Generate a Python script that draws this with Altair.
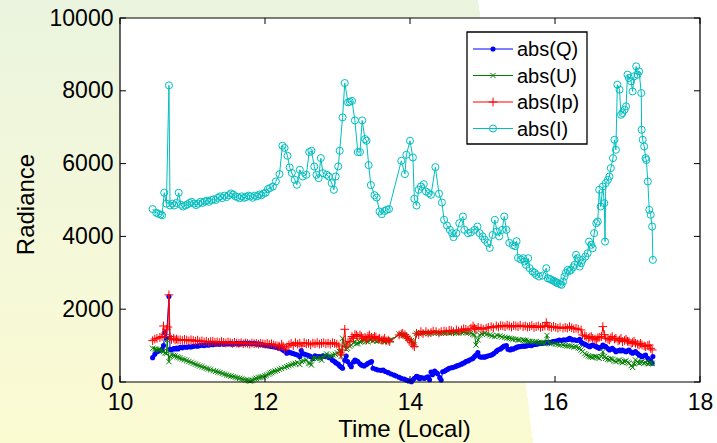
import altair as alt
import pandas as pd

X_TICKS = [10, 12, 14, 16, 18]
Y_TICKS = [0, 2000, 4000, 6000, 8000, 10000]
SERIES = ["abs(Q)", "abs(U)", "abs(Ip)", "abs(I)"]
COLORS = ["#0000FF", "#008000", "#FF0000", "#00BFBF"]

# (time, value) pairs
Q_PTS = [
    (10.45, 669), (10.48, 760), (10.51, 834), (10.55, 862), (10.58, 900), (10.60, 1000), (10.62, 1357),
    (10.64, 1200), (10.675, 2346), (10.69, 900), (10.71, 880), (10.74, 920), (10.76, 907), (10.78, 930),
    (10.80, 907), (10.83, 950), (10.86, 940), (10.89, 960), (10.92, 955), (10.95, 970), (10.98, 960),
    (11.01, 980), (11.04, 990), (11.07, 985), (11.10, 1000), (11.13, 1010), (11.16, 1000), (11.19, 1020),
    (11.22, 1010), (11.25, 1030), (11.28, 1025), (11.31, 1040), (11.34, 1045), (11.37, 1035), (11.40, 1050),
    (11.43, 1040), (11.46, 1055), (11.49, 1045), (11.52, 1060), (11.55, 1040), (11.58, 1050), (11.61, 1060),
    (11.64, 1040), (11.67, 1060), (11.70, 1050), (11.73, 1070), (11.76, 1060), (11.79, 1063), (11.82, 1050),
    (11.85, 1060), (11.88, 1040), (11.91, 1050), (11.94, 1030), (11.97, 1020), (12.00, 1010), (12.02, 1000),
    (12.05, 990), (12.08, 980), (12.11, 970), (12.14, 960), (12.16, 955), (12.19, 930), (12.21, 950),
    (12.23, 907), (12.25, 880), (12.27, 850), (12.30, 788), (12.33, 820), (12.36, 800), (12.39, 780),
    (12.42, 760), (12.45, 740), (12.48, 697), (12.50, 862), (12.52, 780), (12.55, 760), (12.58, 740),
    (12.61, 720), (12.63, 700), (12.66, 645), (12.69, 720), (12.72, 700), (12.755, 697), (12.77, 690),
    (12.80, 720), (12.82, 700), (12.85, 715), (12.88, 670), (12.91, 660), (12.93, 600), (12.96, 560),
    (12.98, 525), (13.01, 490), (13.03, 440), (13.05, 410), (13.07, 376), (13.10, 600), (13.12, 715),
    (13.14, 560), (13.17, 480), (13.19, 422), (13.22, 550), (13.24, 605), (13.26, 580), (13.28, 560),
    (13.31, 500), (13.33, 468), (13.35, 450), (13.37, 440), (13.40, 480), (13.42, 515), (13.45, 540),
    (13.47, 560), (13.49, 376), (13.53, 350), (13.56, 330), (13.60, 320), (13.63, 330), (13.66, 290),
    (13.70, 257), (13.74, 220), (13.78, 190), (13.81, 165), (13.85, 130), (13.88, 100), (13.92, 80),
    (13.95, 55), (13.98, 30), (14.02, 10), (14.04, 60), (14.06, 100), (14.09, 160), (14.11, 140),
    (14.13, 90), (14.15, 120), (14.18, 110), (14.20, 100), (14.23, 130), (14.25, 140), (14.27, 60),
    (14.29, 275), (14.31, 200), (14.34, 300), (14.36, 260), (14.38, 230), (14.41, 120), (14.43, 55),
    (14.45, 283), (14.48, 300), (14.50, 330), (14.52, 350), (14.54, 376), (14.57, 390), (14.59, 400),
    (14.62, 420), (14.64, 440), (14.66, 450), (14.68, 468), (14.71, 490), (14.73, 515), (14.75, 530),
    (14.77, 560), (14.80, 580), (14.82, 605), (14.85, 630), (14.87, 651), (14.89, 700), (14.91, 742),
    (14.936, 806), (14.96, 700), (14.98, 680), (15.01, 690), (15.03, 680), (15.05, 700), (15.07, 715),
    (15.10, 730), (15.12, 742), (15.14, 760), (15.16, 788), (15.19, 840), (15.21, 880), (15.24, 900),
    (15.26, 925), (15.28, 960), (15.30, 990), (15.33, 1000), (15.35, 900), (15.38, 880), (15.40, 910),
    (15.42, 898), (15.45, 930), (15.47, 950), (15.49, 970), (15.51, 971), (15.54, 980), (15.56, 990),
    (15.58, 985), (15.60, 990), (15.62, 1000), (15.65, 1010), (15.67, 1000), (15.69, 1017), (15.72, 1030),
    (15.74, 1040), (15.76, 1045), (15.78, 1063), (15.81, 1060), (15.83, 1063), (15.86, 1070), (15.88, 1082),
    (15.90, 1080), (15.93, 1090), (15.97, 1109), (16.00, 1120), (16.03, 1130), (16.06, 1155), (16.09, 1140),
    (16.12, 1160), (16.15, 1155), (16.18, 1170), (16.20, 1201), (16.22, 1180), (16.24, 1155), (16.27, 1160),
    (16.30, 1140), (16.34, 1173), (16.36, 1100), (16.38, 1063), (16.41, 1040), (16.43, 1017), (16.46, 990),
    (16.48, 971), (16.50, 1000), (16.52, 1017), (16.55, 990), (16.57, 971), (16.59, 950), (16.61, 925),
    (16.64, 960), (16.66, 1017), (16.68, 990), (16.70, 971), (16.73, 920), (16.75, 880), (16.77, 900),
    (16.79, 925), (16.82, 880), (16.84, 834), (16.87, 860), (16.89, 880), (16.91, 850), (16.93, 880),
    (16.96, 850), (16.98, 834), (17.00, 860), (17.02, 880), (17.05, 820), (17.07, 788), (17.09, 810),
    (17.11, 834), (17.14, 780), (17.16, 742), (17.18, 720), (17.20, 697), (17.23, 720), (17.25, 742),
    (17.28, 650), (17.30, 605), (17.32, 560), (17.34, 514), (17.35, 700),
]

U_PTS = [
    (10.45, 926), (10.48, 910), (10.50, 898), (10.53, 890), (10.55, 880), (10.58, 860), (10.60, 834),
    (10.62, 800), (10.64, 788), (10.65, 1155), (10.675, 559), (10.69, 700), (10.71, 742), (10.74, 730),
    (10.76, 715), (10.79, 690), (10.81, 670), (10.83, 651), (10.86, 630), (10.89, 610), (10.92, 587),
    (10.95, 565), (10.98, 540), (11.01, 513), (11.04, 490), (11.07, 465), (11.10, 440), (11.13, 420),
    (11.16, 398), (11.19, 376), (11.22, 355), (11.25, 335), (11.29, 312), (11.32, 295), (11.35, 275),
    (11.38, 257), (11.41, 235), (11.44, 215), (11.47, 193), (11.50, 178), (11.53, 162), (11.56, 147),
    (11.59, 130), (11.62, 115), (11.65, 101), (11.68, 85), (11.71, 70), (11.74, 55), (11.77, 40),
    (11.79, 27), (11.81, 35), (11.83, 55), (11.86, 80), (11.88, 101), (11.91, 115), (11.93, 128),
    (11.95, 140), (11.97, 147), (12.00, 170), (12.02, 193), (12.05, 215), (12.07, 238), (12.09, 260),
    (12.11, 284), (12.14, 300), (12.17, 320), (12.20, 349), (12.23, 370), (12.27, 400), (12.30, 422),
    (12.33, 450), (12.36, 470), (12.39, 495), (12.42, 510), (12.45, 530), (12.48, 480), (12.50, 570),
    (12.53, 580), (12.57, 605), (12.60, 520), (12.62, 514), (12.64, 468), (12.66, 651), (12.69, 660),
    (12.72, 640), (12.76, 651), (12.78, 600), (12.80, 697), (12.83, 720), (12.85, 770), (12.88, 700),
    (12.91, 720), (12.94, 742), (12.97, 760), (13.00, 800), (13.03, 834), (13.05, 700), (13.07, 1201),
    (13.10, 1017), (13.12, 900), (13.14, 925), (13.17, 980), (13.19, 1017), (13.22, 1080), (13.24, 1109),
    (13.26, 1050), (13.28, 1063), (13.31, 1100), (13.33, 1109), (13.35, 1140), (13.37, 1155), (13.40, 1120),
    (13.42, 1109), (13.45, 1160), (13.47, 1173), (13.49, 1130), (13.51, 1155), (13.54, 1120), (13.56, 1136),
    (13.58, 1150), (13.60, 1155), (13.63, 1120), (13.65, 1109), (13.68, 1140), (13.70, 1136), (13.72, 1150),
    (13.74, 1155), (13.85, 1320), (13.88, 1300), (13.90, 1292), (13.93, 1270), (13.95, 1247), (13.97, 1200),
    (13.99, 1173), (14.02, 1140), (14.04, 1109), (14.06, 1017), (14.09, 1338), (14.12, 1320), (14.15, 1356),
    (14.18, 1340), (14.22, 1356), (14.25, 1330), (14.29, 1338), (14.32, 1360), (14.36, 1356), (14.40, 1340),
    (14.43, 1338), (14.47, 1350), (14.50, 1356), (14.54, 1340), (14.57, 1356), (14.60, 1370), (14.64, 1356),
    (14.67, 1340), (14.71, 1356), (14.74, 1370), (14.77, 1356), (14.80, 1350), (14.84, 1338), (14.87, 1310),
    (14.89, 1292), (14.91, 1017), (14.94, 1155), (14.96, 1292), (14.99, 1320), (15.03, 1338), (15.06, 1310),
    (15.10, 1292), (15.13, 1270), (15.17, 1247), (15.20, 1280), (15.24, 1265), (15.27, 1240), (15.31, 1228),
    (15.34, 1210), (15.37, 1201), (15.40, 1190), (15.42, 1173), (15.46, 1173), (15.49, 1160), (15.51, 1155),
    (15.56, 1155), (15.58, 1140), (15.60, 1136), (15.63, 1120), (15.65, 1109), (15.69, 1109), (15.72, 1100),
    (15.74, 1109), (15.78, 1082), (15.81, 1090), (15.83, 1082), (15.86, 1070), (15.89, 1280), (15.92, 1063),
    (15.95, 1050), (16.01, 1045), (16.04, 1030), (16.07, 1020), (16.11, 1017), (16.14, 1000), (16.17, 990),
    (16.20, 990), (16.23, 980), (16.26, 960), (16.29, 971), (16.32, 940), (16.34, 925), (16.36, 880),
    (16.38, 834), (16.41, 780), (16.43, 742), (16.46, 720), (16.48, 697), (16.50, 690), (16.52, 678),
    (16.55, 700), (16.57, 697), (16.59, 670), (16.61, 651), (16.64, 700), (16.66, 834), (16.68, 700),
    (16.70, 651), (16.73, 630), (16.75, 605), (16.77, 640), (16.79, 624), (16.82, 580), (16.84, 559),
    (16.87, 590), (16.89, 605), (16.91, 560), (16.93, 532), (16.96, 560), (16.98, 587), (17.00, 540),
    (17.02, 514), (17.05, 450), (17.07, 403), (17.09, 500), (17.11, 605), (17.14, 540), (17.16, 514),
    (17.18, 540), (17.20, 559), (17.23, 520), (17.25, 532), (17.28, 500), (17.30, 514), (17.32, 530),
    (17.34, 514),
]

IP_PTS = [
    (10.45, 1136), (10.48, 1180), (10.51, 1200), (10.55, 1225), (10.58, 1250), (10.60, 1540), (10.62, 1300),
    (10.64, 1450), (10.66, 1510), (10.675, 2393), (10.69, 1250), (10.71, 1170), (10.74, 1200), (10.76, 1155),
    (10.78, 1180), (10.80, 1155), (10.83, 1160), (10.86, 1140), (10.89, 1170), (10.92, 1150), (10.95, 1130),
    (10.98, 1160), (11.01, 1140), (11.04, 1120), (11.07, 1150), (11.10, 1109), (11.13, 1130), (11.16, 1100),
    (11.19, 1120), (11.22, 1090), (11.25, 1110), (11.28, 1120), (11.31, 1090), (11.34, 1100), (11.37, 1080),
    (11.40, 1110), (11.43, 1090), (11.46, 1070), (11.49, 1100), (11.52, 1080), (11.55, 1060), (11.58, 1090),
    (11.61, 1070), (11.64, 1060), (11.67, 1080), (11.70, 1050), (11.73, 1070), (11.76, 1060), (11.79, 1040),
    (11.82, 1070), (11.85, 1050), (11.88, 1060), (11.91, 1040), (11.94, 1060), (11.97, 1050), (12.00, 1040),
    (12.03, 1060), (12.06, 1030), (12.09, 1050), (12.12, 1020), (12.15, 1000), (12.18, 990), (12.20, 970),
    (12.23, 1040), (12.25, 980), (12.27, 900), (12.30, 960), (12.33, 1020), (12.36, 1060), (12.39, 1000),
    (12.42, 1080), (12.45, 1040), (12.48, 1063), (12.51, 990), (12.54, 1080), (12.57, 1050), (12.60, 1060),
    (12.63, 1020), (12.66, 1070), (12.69, 1050), (12.72, 1080), (12.75, 1040), (12.78, 1060), (12.81, 1080),
    (12.84, 1050), (12.87, 1070), (12.90, 1040), (12.93, 1080), (12.96, 1060), (12.99, 1040), (13.02, 990),
    (13.04, 800), (13.05, 742), (13.07, 880), (13.10, 1448), (13.12, 971), (13.145, 1100), (13.17, 1109),
    (13.20, 1250), (13.22, 1201), (13.24, 1300), (13.26, 1292), (13.28, 1250), (13.31, 1292), (13.33, 1250),
    (13.35, 1201), (13.38, 1230), (13.40, 1155), (13.42, 1250), (13.44, 1292), (13.47, 1230), (13.49, 1201),
    (13.51, 1250), (13.53, 1230), (13.56, 1180), (13.58, 1201), (13.61, 1150), (13.63, 1155), (13.65, 1200),
    (13.67, 1130), (13.70, 1150), (13.72, 1109), (13.85, 1292), (13.88, 1320), (13.90, 1338), (13.93, 1300),
    (13.95, 1247), (13.97, 1200), (13.99, 1155), (14.02, 1080), (14.04, 1017), (14.06, 971), (14.09, 1338),
    (14.12, 1300), (14.15, 1384), (14.18, 1330), (14.22, 1384), (14.25, 1340), (14.29, 1360), (14.32, 1400),
    (14.36, 1384), (14.40, 1350), (14.43, 1384), (14.47, 1400), (14.50, 1384), (14.54, 1420), (14.57, 1412),
    (14.60, 1380), (14.64, 1430), (14.67, 1400), (14.71, 1430), (14.74, 1460), (14.77, 1448), (14.80, 1420),
    (14.84, 1476), (14.87, 1540), (14.89, 1480), (14.91, 1448), (14.94, 1500), (14.98, 1476), (15.01, 1450),
    (15.05, 1476), (15.08, 1500), (15.12, 1522), (15.15, 1490), (15.19, 1540), (15.22, 1510), (15.25, 1550),
    (15.28, 1540), (15.31, 1520), (15.34, 1560), (15.37, 1540), (15.40, 1510), (15.43, 1550), (15.46, 1540),
    (15.49, 1520), (15.52, 1560), (15.56, 1522), (15.59, 1540), (15.62, 1510), (15.65, 1522), (15.68, 1550),
    (15.71, 1500), (15.74, 1522), (15.77, 1540), (15.80, 1500), (15.83, 1522), (15.86, 1540), (15.88, 1632),
    (15.90, 1540), (15.92, 1522), (15.95, 1500), (15.98, 1530), (16.01, 1503), (16.04, 1480), (16.07, 1510),
    (16.11, 1476), (16.14, 1500), (16.17, 1480), (16.20, 1522), (16.23, 1490), (16.26, 1460), (16.29, 1476),
    (16.32, 1450), (16.36, 1430), (16.38, 1292), (16.41, 1270), (16.43, 1247), (16.46, 1200), (16.48, 1228),
    (16.50, 1250), (16.52, 1201), (16.55, 1180), (16.57, 1155), (16.59, 1210), (16.61, 1228), (16.64, 1250),
    (16.66, 1522), (16.68, 1300), (16.70, 1201), (16.73, 1180), (16.75, 1155), (16.77, 1210), (16.79, 1247),
    (16.82, 1180), (16.84, 1201), (16.87, 1130), (16.89, 1155), (16.91, 1200), (16.93, 1109), (16.96, 1140),
    (16.98, 1173), (17.00, 1120), (17.02, 1109), (17.05, 1060), (17.07, 1082), (17.09, 1120), (17.11, 1063),
    (17.14, 1040), (17.16, 1017), (17.18, 1060), (17.20, 1017), (17.23, 990), (17.25, 971), (17.28, 1000),
    (17.30, 1017), (17.32, 925), (17.34, 880),
]

I_PTS = [
    (10.45, 4750), (10.50, 4650), (10.53, 4620), (10.56, 4600), (10.58, 4580), (10.61, 5200), (10.64, 4900),
    (10.675, 8150), (10.69, 4850), (10.72, 4900), (10.75, 4850), (10.78, 4920), (10.81, 5200), (10.84, 4870),
    (10.87, 4820), (10.90, 4850), (10.93, 4880), (10.96, 4920), (10.99, 4950), (11.02, 4900), (11.05, 4860),
    (11.08, 4900), (11.11, 4950), (11.14, 4920), (11.17, 4960), (11.20, 4980), (11.23, 4950), (11.26, 5000),
    (11.29, 5020), (11.32, 5000), (11.35, 5060), (11.38, 5100), (11.41, 5050), (11.44, 5120), (11.47, 5080),
    (11.50, 5130), (11.53, 5180), (11.56, 5150), (11.59, 5100), (11.62, 5080), (11.65, 5050), (11.68, 5100),
    (11.71, 5060), (11.74, 5080), (11.77, 5120), (11.80, 5100), (11.83, 5060), (11.86, 5120), (11.89, 5100),
    (11.92, 5150), (11.95, 5130), (11.98, 5180), (12.01, 5200), (12.04, 5300), (12.07, 5330), (12.11, 5370),
    (12.15, 5510), (12.20, 5710), (12.24, 6490), (12.27, 6430), (12.31, 6215), (12.34, 5895), (12.37, 5740),
    (12.41, 5555), (12.44, 5418), (12.48, 5830), (12.52, 5646), (12.57, 5692), (12.61, 6317), (12.64, 6352),
    (12.68, 5921), (12.71, 5692), (12.74, 5600), (12.77, 6151), (12.80, 5738), (12.85, 5692), (12.88, 5646),
    (12.92, 5463), (12.95, 5280), (12.975, 5646), (13.01, 5921), (13.03, 6352), (13.07, 7270), (13.10, 8213),
    (13.145, 7682), (13.17, 7700), (13.20, 7720), (13.24, 7186), (13.28, 6316), (13.31, 6316), (13.34, 7186),
    (13.38, 6674), (13.40, 6627), (13.43, 5958), (13.46, 5409), (13.51, 5133), (13.54, 5068), (13.58, 4684),
    (13.61, 4610), (13.65, 4700), (13.68, 4730), (13.71, 4750), (13.88, 6077), (13.93, 5711), (13.95, 6242),
    (14.00, 6627), (14.04, 6169), (14.06, 5032), (14.09, 4849), (14.12, 5280), (14.15, 5372), (14.19, 5436),
    (14.22, 5234), (14.26, 5188), (14.29, 5143), (14.35, 5903), (14.40, 5170), (14.44, 4931), (14.47, 4455),
    (14.51, 4299), (14.55, 4180), (14.58, 4088), (14.60, 3979), (14.64, 4088), (14.68, 4363), (14.73, 4546),
    (14.75, 4180), (14.80, 4088), (14.84, 4110), (14.89, 4180), (14.93, 4270), (14.96, 4089), (15.00, 4000),
    (15.03, 3910), (15.07, 3822), (15.10, 3684), (15.14, 4040), (15.17, 4455), (15.20, 4135), (15.23, 4000),
    (15.27, 4180), (15.30, 4547), (15.33, 4180), (15.37, 3822), (15.42, 3760), (15.45, 3730), (15.47, 3868),
    (15.49, 3410), (15.53, 3365), (15.56, 3400), (15.58, 3310), (15.60, 3218), (15.63, 3400), (15.65, 3127),
    (15.69, 3035), (15.72, 3000), (15.74, 2943), (15.78, 2897), (15.83, 2925), (15.88, 3126), (15.90, 2850),
    (15.93, 2830), (15.95, 2805), (15.98, 2780), (16.00, 2760), (16.02, 2730), (16.04, 2713), (16.07, 2690),
    (16.09, 2668), (16.11, 2760), (16.13, 2897), (16.15, 3000), (16.175, 3080), (16.20, 3050), (16.22, 3080),
    (16.25, 3150), (16.27, 3218), (16.29, 3493), (16.31, 3400), (16.34, 3172), (16.36, 3263), (16.38, 3355),
    (16.42, 3446), (16.45, 3538), (16.47, 3858), (16.50, 3768), (16.52, 3676), (16.54, 4089), (16.57, 4363),
    (16.59, 4409), (16.61, 5280), (16.63, 4821), (16.66, 5371), (16.68, 4913), (16.69, 3858), (16.70, 5464),
    (16.73, 5555), (16.75, 5646), (16.77, 5876), (16.80, 6151), (16.82, 6655), (16.84, 6380), (16.86, 8168),
    (16.89, 8030), (16.91, 7343), (16.93, 7389), (16.96, 7480), (16.98, 7572), (17.00, 8443), (17.02, 8351),
    (17.05, 8258), (17.07, 7983), (17.09, 8396), (17.12, 8671), (17.14, 8443), (17.16, 8533), (17.19, 7939),
    (17.195, 6930), (17.21, 6655), (17.23, 6471), (17.25, 6151), (17.26, 6100), (17.28, 5509), (17.30, 4730),
    (17.32, 4593), (17.34, 4271), (17.35, 3355),
]

POINTS = [Q_PTS, U_PTS, IP_PTS, I_PTS]

W, H = 580, 364
FONT = "Liberation Sans"

MARKERS = [
    dict(shape="circle", filled=True, size=26, strokeWidth=0),
    dict(shape="M-1,-1L1,1M-1,1L1,-1", filled=False, size=28, strokeWidth=1),
    dict(shape="M-1,0L1,0M0,-1L0,1", filled=False, size=76, strokeWidth=1),
    dict(shape="circle", filled=False, size=50, strokeWidth=1),
]

xs = alt.Scale(domain=[10, 18], nice=False, zero=False)
ys = alt.Scale(domain=[0, 10000], nice=False, zero=False)

common_axis = dict(
    ticks=False, tickSize=0, domain=False, grid=False, format="d",
    labelFlush=False, labelOverlap=False, labelBound=False,
    labelFont=FONT, labelFontSize=23, labelColor="black",
    titleFont=FONT, titleFontSize=24, titleFontWeight="normal", titleColor="black",
    zindex=1,
)
x_axis = alt.Axis(values=X_TICKS, labelPadding=9, titlePadding=3, titleX=284, **common_axis)
y_axis = alt.Axis(values=Y_TICKS, labelPadding=7, titlePadding=11, titleY=186, **common_axis)

XE = alt.X("t:Q", scale=xs, axis=x_axis, title="Time (Local)")
YE = alt.Y("v:Q", scale=ys, axis=y_axis, title="Radiance")

one = pd.DataFrame({"a": [0]})

# page background (slide-like gradient with white right part)
bg_grad = alt.LinearGradient(
    gradient="linear", x1=0, y1=0, x2=0, y2=1,
    stops=[alt.GradientStop(color="#EAF4DE", offset=0),
           alt.GradientStop(color="#F4F8DA", offset=0.5),
           alt.GradientStop(color="#FBFBD2", offset=1)],
)
white_grad = alt.LinearGradient(
    gradient="linear", x1=0, y1=0.5, x2=1, y2=0.4233,
    stops=[alt.GradientStop(color="rgba(255,255,255,0)", offset=0),
           alt.GradientStop(color="rgba(255,255,255,0)", offset=0.701),
           alt.GradientStop(color="#ffffff", offset=0.701),
           alt.GradientStop(color="#ffffff", offset=1)],
)
bg_enc = dict(x=alt.value(-120), x2=alt.value(597), y=alt.value(-18), y2=alt.value(425))
layers = [
    alt.Chart(one).mark_rect(fill=bg_grad, strokeWidth=0).encode(**bg_enc),
    alt.Chart(one).mark_rect(fill=white_grad, strokeWidth=0).encode(**bg_enc),
    alt.Chart(one).mark_rect(fill="white", strokeWidth=0).encode(
        x=alt.value(0), x2=alt.value(W), y=alt.value(0), y2=alt.value(H)),
]

for pts, color, mk in zip(POINTS, COLORS, MARKERS):
    df = pd.DataFrame(pts, columns=["t", "v"])
    base = alt.Chart(df).encode(x=XE, y=YE)
    layers.append(base.mark_line(color=color, strokeWidth=1))
    layers.append(base.mark_point(color=color, opacity=1, **mk))

# inward ticks on all four sides
xt = pd.DataFrame({"t": X_TICKS})
yt = pd.DataFrame({"v": Y_TICKS})
layers += [
    alt.Chart(xt).mark_rule(color="black", strokeWidth=1).encode(x=XE, y=alt.value(H), y2=alt.value(H - 6)),
    alt.Chart(xt).mark_rule(color="black", strokeWidth=1).encode(x=XE, y=alt.value(0), y2=alt.value(6)),
    alt.Chart(yt).mark_rule(color="black", strokeWidth=1).encode(y=YE, x=alt.value(0), x2=alt.value(6)),
    alt.Chart(yt).mark_rule(color="black", strokeWidth=1).encode(y=YE, x=alt.value(W - 6), x2=alt.value(W)),
    alt.Chart(one).mark_rect(fillOpacity=0, stroke="black", strokeWidth=1.2).encode(
        x=alt.value(0), x2=alt.value(W), y=alt.value(0), y2=alt.value(H)),
]

# legend box
layers.append(alt.Chart(one).mark_rect(fill="white", stroke="black", strokeWidth=1.3).encode(
    x=alt.value(347), x2=alt.value(467), y=alt.value(14), y2=alt.value(126)))
for i, (name, color, mk) in enumerate(zip(SERIES, COLORS, MARKERS)):
    yy = 31 + 26.5 * i
    layers.append(alt.Chart(one).mark_rule(color=color, strokeWidth=1).encode(
        x=alt.value(353), x2=alt.value(393), y=alt.value(yy)))
    layers.append(alt.Chart(one).mark_point(color=color, opacity=1, **mk).encode(
        x=alt.value(373), y=alt.value(yy)))
    layers.append(alt.Chart(one).mark_text(align="left", baseline="middle", font=FONT, fontSize=20,
                                            color="black", dy=1).encode(
        x=alt.value(397), y=alt.value(yy), text=alt.value(name)))

chart = alt.layer(*layers).properties(
    width=W, height=H, padding=0, background="white"
).configure_view(stroke=None)

chart.save("out.html", embed_options={"renderer": "svg", "actions": False})
